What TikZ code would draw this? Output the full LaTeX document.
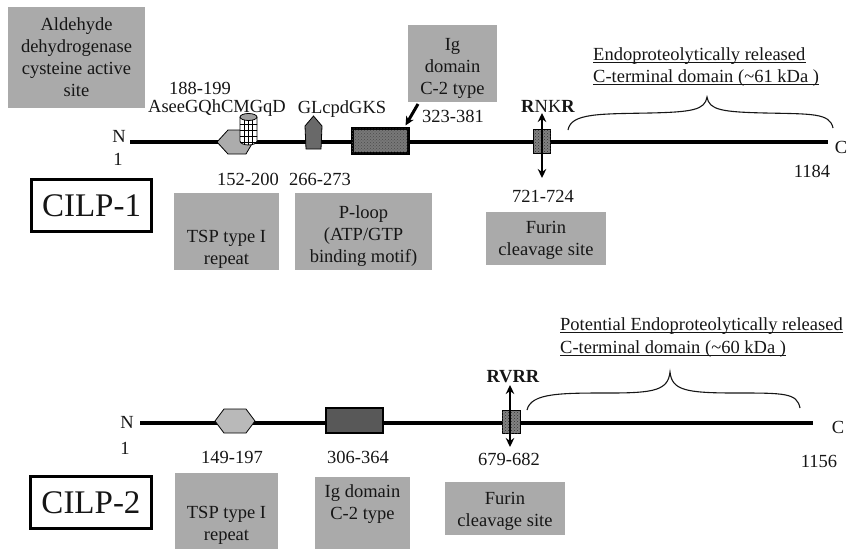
\documentclass[tikz,border=0pt]{standalone}
\usepackage{fontspec}
\setmainfont{Liberation Serif}
\usetikzlibrary{arrows.meta,patterns}
\definecolor{boxgrey}{RGB}{170,170,170}
\definecolor{hexgrey}{RGB}{172,172,172}
\definecolor{hexgreyb}{RGB}{185,185,185}
\definecolor{pentgrey}{RGB}{105,105,105}
\definecolor{iggrey}{RGB}{120,120,120}
\definecolor{iggreyb}{RGB}{88,88,88}
\definecolor{furgrey}{RGB}{130,130,130}
\definecolor{ink}{RGB}{22,22,22}
\begin{document}
\begin{tikzpicture}[x=1pt,y=-1pt,
  every node/.style={font=\fontsize{18.5}{22}\selectfont, inner sep=0pt, text=ink},
  gbox/.style={fill=boxgrey, draw=none},
  txt/.style={align=center},
  namebox/.style={draw=black, line width=3.5pt, fill=white, font=\fontsize{33}{36}\selectfont},
  backbone/.style={line width=4.2pt, draw=black},
  dbl/.style={line width=2.6pt, {Stealth[length=9pt,width=8.5pt]}-{Stealth[length=9pt,width=8.5pt]}},
  igarrow/.style={line width=3pt, -{Stealth[length=9pt,width=8.5pt]}},
  bracestyle/.style={line width=1.1pt, draw=ink},
  hexstyle/.style={draw=black, line width=0.8pt},
  igrect/.style={draw=black, line width=3pt, postaction={pattern=crosshatch dots, pattern color=black!70}},
  furrect/.style={draw=black, line width=0.8pt, fill=furgrey, postaction={pattern=crosshatch dots, pattern color=black!80}},
  uline/.style={line width=0.8pt, draw=ink},
]
\useasboundingbox (0,0) rectangle (847,549);

% ================= CILP-1 =================
% grey label boxes
\node[gbox, minimum width=137pt, minimum height=101pt] (aldbox) at (76.5,57.5) {};
\node[txt] (aldtext) at (76.5,57.5) {Aldehyde\\dehydrogenase\\cysteine active\\site};
\node[gbox, minimum width=89pt, minimum height=77pt] (igbox1) at (452.5,63.5) {};
\node[txt] (igtext1) at (452.5,68) {Ig\\domain\\C-2 type};
\node[gbox, minimum width=105pt, minimum height=77pt] (tspbox1) at (226.5,231.5) {};
\node[txt] (tsptext1) at (226.5,249) {TSP type I\\repeat};
\node[gbox, minimum width=137pt, minimum height=77pt] (ploopbox) at (363.5,231.5) {};
\node[txt] (plooptext) at (363.5,236.5) {P-loop\\(ATP/GTP\\binding motif)};
\node[gbox, minimum width=120pt, minimum height=53pt] (furbox1) at (546,238.5) {};
\node[txt] (furtext1) at (546,240) {Furin\\cleavage site};
\node[namebox, minimum width=120pt, minimum height=52pt] (cilp1) at (91.5,205.5) {CILP-1};

% backbone
\coordinate (n1) at (130,142);
\coordinate (c1) at (828,142);
\draw[backbone] (n1) -- (c1);
\node[anchor=base] (nlab1) at (119,142) {N};
\node[anchor=base] (onelab1) at (118,165) {1};
\node[anchor=base] (clab1) at (841,153) {C};
\node[anchor=base] (endlab1) at (812,177) {1184};

% TSP hexagon
\filldraw[hexstyle, fill=hexgrey] (217,142) -- (228,130) -- (246,130) -- (253,142) -- (246,154) -- (228,154) -- cycle;
% cylinder (aldehyde dehydrogenase site)
\begin{scope}
  \clip (240,117) -- (240,141) arc[start angle=180,end angle=360,x radius=8.5pt,y radius=4pt] -- (257,117) -- cycle;
  \fill[white] (238,110) rectangle (259,150);
  \foreach \xx in {244.5,248.5,252.5} \draw[line width=0.6pt] (\xx,110) -- (\xx,150);
  \foreach \yy in {124,130,136,142} \draw[line width=0.6pt] (238,\yy) -- (259,\yy);
\end{scope}
\draw[line width=0.8pt] (240,117) -- (240,141) arc[start angle=180,end angle=360,x radius=8.5pt,y radius=4pt] -- (257,117);
\filldraw[line width=0.8pt, fill=gray!75] (248.5,117) ellipse[x radius=8.5pt, y radius=3.5pt];
% P-loop pentagon
\filldraw[hexstyle, fill=pentgrey] (313.5,116) -- (322,126) -- (321,149) -- (306,149) -- (305,126) -- cycle;
% Ig domain rectangle
\node[igrect, fill=iggrey, minimum width=56pt, minimum height=25pt] (igr1) at (380,140.5) {};
\coordinate (igarr1) at (418,104);
\draw[igarrow] (igarr1) -- ([xshift=-4pt,yshift=1pt]igr1.north east);
% Furin site
\node[furrect, minimum width=17pt, minimum height=24pt] (fur1) at (542,141.5) {};
\coordinate (f1top) at (542,113);
\coordinate (f1bot) at (542,178);
\draw[dbl] (f1top) -- (f1bot);

% labels
\node[anchor=base] (r1a) at (200,94) {188-199};
\node[anchor=base] (r1b) at (217,112) {AseeGQhCMGqD};
\node[anchor=base] (r1c) at (342,113) {GLcpdGKS};
\node[anchor=base] (r1d) at (453,122) {323-381};
\node[anchor=base] (rnkr) at (548,112) {\textbf{R}NK\textbf{R}};
\node[anchor=base] (r1e) at (248,185) {152-200};
\node[anchor=base] (r1f) at (320,185) {266-273};
\node[anchor=base] (r1g) at (543,202) {721-724};

% brace and header
\draw[bracestyle] (568,130) .. controls (571,113) and (600,114) .. (650,113)
   .. controls (692,112) and (705,110) .. (707,97)
   .. controls (709,110) and (722,112) .. (765,113)
   .. controls (812,114) and (830,113) .. (833,128);
\node[anchor=base west] (hdr1a) at (593,60) {Endoproteolytically released};
\node[anchor=base west] (hdr1b) at (593,82) {C-terminal domain (\char`\~61 kDa )};
\draw[uline] ([yshift=-2.5pt]hdr1a.base west) -- ([yshift=-2.5pt]hdr1a.base east);
\draw[uline] ([yshift=-2.5pt]hdr1b.base west) -- ([yshift=-2.5pt]hdr1b.base east);

% ================= CILP-2 =================
\node[gbox, minimum width=103pt, minimum height=76pt] (tspbox2) at (226.5,511) {};
\node[txt] (tsptext2) at (226.5,525) {TSP type I\\repeat};
\node[gbox, minimum width=95pt, minimum height=72pt] (igbox2) at (362.5,513) {};
\node[txt] (igtext2) at (362.5,504.5) {Ig domain\\C-2 type};
\node[gbox, minimum width=120pt, minimum height=53pt] (furbox2) at (505,508.5) {};
\node[txt] (furtext2) at (505,511.5) {Furin\\cleavage site};
\node[namebox, minimum width=121pt, minimum height=52pt] (cilp2) at (91,502.5) {CILP-2};

\coordinate (n2) at (140,423);
\coordinate (c2) at (813,423);
\draw[backbone] (n2) -- (c2);
\node[anchor=base] (nlab2) at (127,428) {N};
\node[anchor=base] (onelab2) at (125,454) {1};
\node[anchor=base] (clab2) at (838,433) {C};
\node[anchor=base] (endlab2) at (819,467) {1156};

\filldraw[hexstyle, fill=hexgreyb] (215,421) -- (224,409) -- (246,409) -- (255,421) -- (246,433) -- (224,433) -- cycle;
\node[draw=black, line width=2.8pt, fill=iggreyb, minimum width=57pt, minimum height=25pt] (igr2) at (354.5,420.5) {};
\node[furrect, minimum width=18pt, minimum height=23pt] (fur2) at (511,421.5) {};
\coordinate (f2top) at (510,385);
\coordinate (f2bot) at (510,447);
\draw[dbl] (f2top) -- (f2bot);

\node[anchor=base] (rvrr) at (513,382) {\textbf{RVRR}};
\node[anchor=base] (r2a) at (232,463) {149-197};
\node[anchor=base] (r2b) at (358,463) {306-364};
\node[anchor=base] (r2c) at (509,465) {679-682};

\draw[bracestyle] (527,410) .. controls (531,393) and (560,393) .. (610,393)
   .. controls (655,393) and (668,390) .. (670,372)
   .. controls (672,390) and (685,393) .. (735,393)
   .. controls (785,393) and (797,393) .. (800,408);
\node[anchor=base west] (hdr2a) at (560,330) {Potential Endoproteolytically released};
\node[anchor=base west] (hdr2b) at (560,353) {C-terminal domain (\char`\~60 kDa )};
\draw[uline] ([yshift=-2.5pt]hdr2a.base west) -- ([yshift=-2.5pt]hdr2a.base east);
\draw[uline] ([yshift=-2.5pt]hdr2b.base west) -- ([yshift=-2.5pt]hdr2b.base east);
\end{tikzpicture}
\end{document}
